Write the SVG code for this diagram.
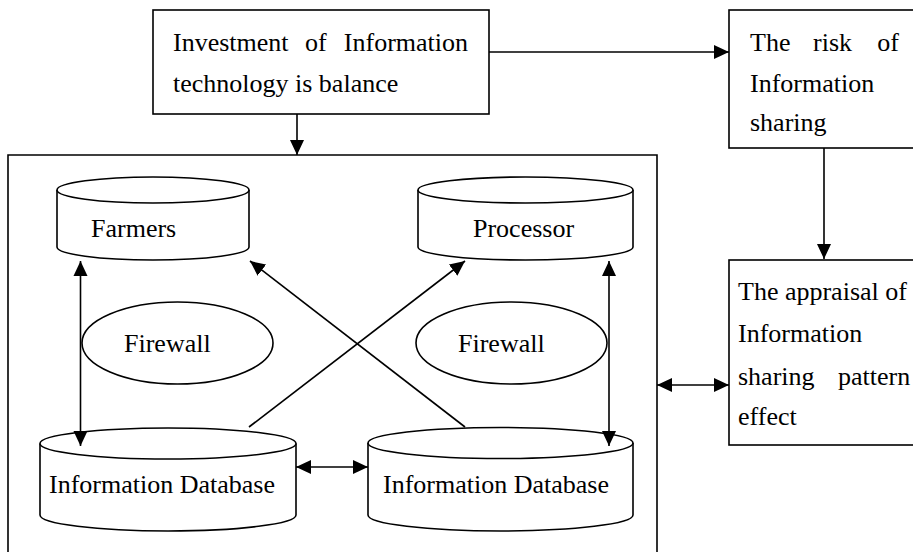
<svg xmlns="http://www.w3.org/2000/svg" width="913" height="552" viewBox="0 0 913 552">
<style>
.s{fill:#fff;stroke:#000;stroke-width:1.6}
.c{fill:none;stroke:#000;stroke-width:1.6}
text{font-family:"Liberation Serif","Times New Roman",serif;font-size:26px;fill:#000}
</style>
<defs>
<marker id="a" markerUnits="userSpaceOnUse" markerWidth="16" markerHeight="16" refX="15" refY="8" orient="auto-start-reverse" viewBox="0 0 16 16">
<path d="M0,1 L15,8 L0,15 z" fill="#000"/>
</marker>
<clipPath id="rc"><rect x="729" y="10" width="190" height="126"/></clipPath>
</defs>
<rect width="913" height="552" fill="#fff"/>
<g id="container"><path class="c" d="M8,560 V155 H657 V560"/></g>
<g id="invest">
<rect class="s" x="153" y="10" width="336" height="104"/>
<text x="173" y="51">Investment</text><text x="305" y="51">of</text><text x="468" y="51" text-anchor="end">Information</text>
<text x="173" y="92">technology is balance</text>
</g>
<g id="risk">
<rect class="s" x="729" y="10" width="200" height="138"/>
<g clip-path="url(#rc)">
<text x="750" y="51">The</text><text x="813" y="51">risk</text><text x="899" y="51" text-anchor="end">of</text>
<text x="750" y="92">Information</text>
<text x="750" y="131">sharing</text>
</g>
</g>
<g id="appraisal">
<rect class="s" x="729" y="260" width="200" height="185"/>
<text x="738" y="300">The appraisal of</text>
<text x="738" y="342">Information</text>
<text x="738" y="385">sharing</text><text x="838" y="385">pattern</text>
<text x="738" y="425">effect</text>
</g>
<g id="farmers">
<path class="s" d="M57,190 V247 A96,13 0 0 0 249,247 V190"/>
<ellipse class="s" cx="153" cy="190" rx="96" ry="13"/>
<text x="91" y="237">Farmers</text>
</g>
<g id="processor">
<path class="s" d="M418,190 V247 A107.5,13 0 0 0 633,247 V190"/>
<ellipse class="s" cx="525.5" cy="190" rx="107.5" ry="13"/>
<text x="473" y="237">Processor</text>
</g>
<g id="firewall1">
<ellipse class="s" cx="177.5" cy="343" rx="95.5" ry="41"/>
<text x="124" y="352">Firewall</text>
</g>
<g id="firewall2">
<ellipse class="s" cx="511.5" cy="343" rx="95.5" ry="41"/>
<text x="458" y="352">Firewall</text>
</g>
<g id="db1">
<path class="s" d="M40,443.5 V515 A128,16 0 0 0 296,515 V443.5"/>
<ellipse class="s" cx="168" cy="443.5" rx="128" ry="15.5"/>
<text x="49" y="493">Information Database</text>
</g>
<g id="db2">
<path class="s" d="M368,443 V515 A132.5,16 0 0 0 633,515 V443"/>
<ellipse class="s" cx="500.5" cy="443" rx="132.5" ry="15.5"/>
<text x="383" y="493">Information Database</text>
</g>
<g id="connectors" class="c">
<line x1="297" y1="114" x2="297" y2="155" marker-end="url(#a)"/>
<line x1="489" y1="52" x2="729" y2="52" marker-end="url(#a)"/>
<line x1="824" y1="148" x2="824" y2="259" marker-end="url(#a)"/>
<line x1="657" y1="385" x2="729" y2="385" marker-start="url(#a)" marker-end="url(#a)"/>
<line x1="80.5" y1="261" x2="80.5" y2="446" marker-start="url(#a)" marker-end="url(#a)"/>
<line x1="609" y1="261" x2="609" y2="446" marker-start="url(#a)" marker-end="url(#a)"/>
<line x1="296" y1="467" x2="368" y2="467" marker-start="url(#a)" marker-end="url(#a)"/>
<line x1="465" y1="427" x2="250" y2="261" marker-end="url(#a)"/>
<line x1="249" y1="427" x2="465" y2="261" marker-end="url(#a)"/>
</g>
</svg>
